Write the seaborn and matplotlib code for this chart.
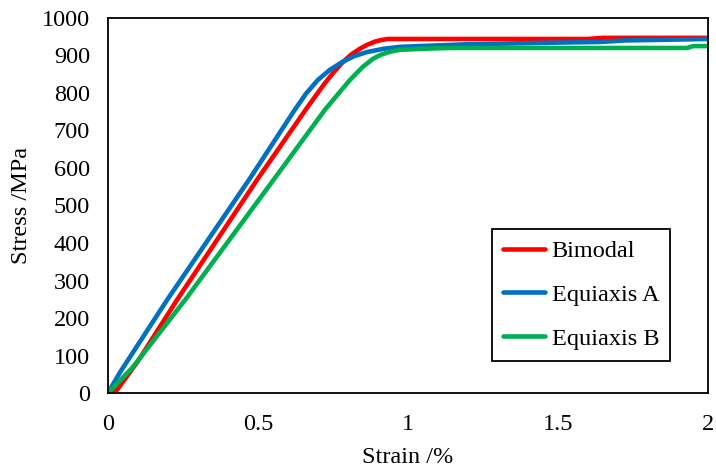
import numpy as np
import pandas as pd
import matplotlib
matplotlib.use("Agg")
import matplotlib.pyplot as plt
import seaborn as sns

# tensile curves (strain in %, stress in MPa)
bimodal_strain = [0.0, 0.03, 0.10, 0.23, 0.50, 0.663, 0.72, 0.75, 0.78, 0.81, 0.84, 0.863,
                  0.89, 0.91, 0.933, 1.0, 1.6, 1.65, 2.0]
bimodal_stress = [0, 8, 85, 248, 572, 760, 823, 853, 880, 902, 918, 928,
                  937, 941, 944, 944, 944, 947, 947]

equi_a_strain = [0.0, 0.04, 0.197, 0.473, 0.62, 0.66, 0.70, 0.74, 0.78, 0.82, 0.863,
                 0.92, 0.973, 1.2, 1.55, 1.64, 1.72, 2.0]
equi_a_stress = [0, 55, 248, 572, 752, 798, 835, 862, 882, 898, 909,
                 918, 923, 930, 935, 936, 940, 944]

equi_b_strain = [0.0, 0.083, 0.257, 0.547, 0.723, 0.77, 0.807, 0.85, 0.883, 0.91, 0.94,
                 0.973, 1.05, 1.14, 1.93, 1.95, 2.0]
equi_b_stress = [0, 69, 248, 563, 755, 800, 835, 870, 891, 902, 910,
                 915, 918, 920, 920, 925, 925]

series_names = ["Bimodal", "Equiaxis A", "Equiaxis B"]
series_colors = ["#FF0000", "#0070C0", "#00B050"]

frames = []
for name, xs, ys in zip(series_names,
                        [bimodal_strain, equi_a_strain, equi_b_strain],
                        [bimodal_stress, equi_a_stress, equi_b_stress]):
    frames.append(pd.DataFrame({"strain": xs, "stress": ys, "sample": name}))
df = pd.concat(frames, ignore_index=True)

sns.set_theme(style="white")
plt.rcParams["font.family"] = ["Liberation Serif", "DejaVu Serif"]

FS = 17.5

fig = plt.figure(figsize=(7.16, 4.73), dpi=100)
ax = fig.add_axes([0.1508, 0.1691, 0.838, 0.7929])

sns.lineplot(data=df, x="strain", y="stress", hue="sample", hue_order=series_names,
             palette=dict(zip(series_names, series_colors)), sort=False,
             estimator=None, linewidth=3.3, ax=ax)

ax.set_xlim(0, 2)
ax.set_ylim(0, 1000)
ax.set_xticks([0, 0.5, 1, 1.5, 2])
ax.set_xticklabels(["0", "0.5", "1", "1.5", "2"])
ax.set_yticks(range(0, 1001, 100))

for side in ["left", "right", "top", "bottom"]:
    ax.spines[side].set_visible(True)
    ax.spines[side].set_color("black")
    ax.spines[side].set_linewidth(1.3)

ax.tick_params(axis="both", direction="in", length=5, width=1.1, color="black",
               labelsize=FS, labelcolor="black", pad=13)
ax.tick_params(axis="x", pad=15)
ax.set_xlabel("Strain /%", fontsize=FS, color="black", labelpad=9)
ax.set_ylabel("Stress /MPa", fontsize=FS, color="black", labelpad=7)

leg = ax.legend(loc="upper left", bbox_to_anchor=(0.64, 0.437), fontsize=FS,
                frameon=True, fancybox=False, edgecolor="black", framealpha=1,
                handlelength=1.75, handletextpad=0.25, labelspacing=0.9,
                borderpad=0.45, borderaxespad=0)
leg.get_frame().set_linewidth(1.3)
for line in leg.get_lines():
    line.set_linewidth(3.3)
for t in leg.get_texts():
    t.set_color("black")

fig.savefig("out.png", dpi=100)
